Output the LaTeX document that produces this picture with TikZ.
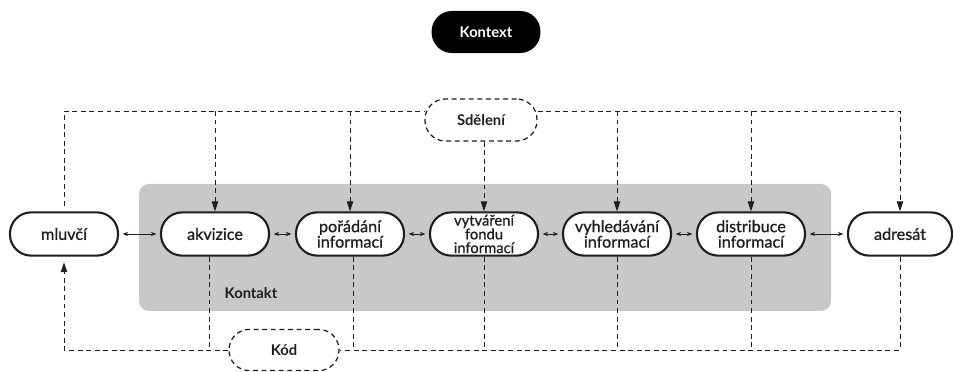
\documentclass[tikz,border=0pt]{standalone}
\usepackage{fontspec}
\setmainfont{Lato}
\newfontfamily\medfont{Lato}[FakeBold=0.8]
\usetikzlibrary{arrows.meta}

\definecolor{kontaktgray}{RGB}{200,200,202}
\definecolor{ink}{RGB}{30,30,30}

\begin{document}
\begin{tikzpicture}[x=0.025cm,y=-0.025cm,
  proc/.style={draw=ink,line width=1.5pt,fill=white,rounded corners=15pt,
    minimum width=2.7cm,minimum height=1.08cm,inner sep=1pt,align=center,
    font=\medfont\fontsize{11.5}{11}\selectfont,text=ink},
  cloud/.style={draw=ink,line width=0.9pt,dash pattern=on 3.5pt off 2.6pt,
    fill=white,rounded corners=14.5pt,minimum height=1.05cm,
    font=\bfseries\fontsize{10.5}{12}\selectfont,text=ink},
  dashline/.style={draw=ink,line width=0.7pt,dash pattern=on 3.5pt off 2.6pt},
  down/.style={-{Triangle[length=7pt,width=4.5pt]}},
  link/.style={{Stealth[length=4pt,width=3pt]}-{Stealth[length=4pt,width=3pt]},
    draw=ink,line width=0.6pt,shorten <=2.5pt,shorten >=2.5pt}]

\useasboundingbox (0,0) rectangle (953,372);

\fill[kontaktgray,rounded corners=7pt] (139,184) rectangle (831,311);
\node[font=\bfseries\fontsize{10.5}{12}\selectfont,text=ink] (kontakt) at (251,293) {Kontakt};

\node[fill=black,text=white,rounded corners=14.5pt,minimum width=2.72cm,
  minimum height=1.05cm,font=\bfseries\fontsize{10.5}{12}\selectfont] (kontext) at (486,32) {Kontext};

\coordinate (top) at (0,111);
\coordinate (bottom) at (0,350);

\node[proc] (mluvci) at (64,234) {mluvčí};
\node[proc] (akvizice) at (215,234) {akvizice};
\node[proc] (poradani) at (350,234) {pořádání\\informací};
\node[proc,font=\medfont\fontsize{10.5}{9.8}\selectfont] (fond) at (484,234) {vytváření\\fondu\\informací};
\node[proc] (vyhledavani) at (617,234) {vyhledávání\\informací};
\node[proc] (distribuce) at (751,234) {distribuce\\informací};
\node[proc,minimum width=2.6cm] (adresat) at (900,234) {adresát};

\node[cloud,minimum width=2.8cm] (sdeleni) at (481,120) {Sdělení};
\node[cloud,minimum width=2.75cm,minimum height=1.03cm] (kod) at (284,350) {Kód};

\foreach \a/\b in {mluvci/akvizice,akvizice/poradani,poradani/fond,
  fond/vyhledavani,vyhledavani/distribuce,distribuce/adresat}
  \draw[link] (\a) -- (\b);

% Sdeleni
\draw[dashline,shorten <=4pt] (mluvci.north) |- (sdeleni.west |- top);
\draw[dashline,down] (sdeleni.east |- top) -| (adresat.north);
\foreach \n in {akvizice,poradani,vyhledavani,distribuce}
  \draw[dashline,down] (\n.north |- top) -- (\n.north);
\draw[dashline,down] (sdeleni.south -| fond.north) -- (fond.north);

% Kod
\draw[dashline] (adresat.south) |- (kod.east);
\draw[dashline,down,shorten >=4pt] (kod.west) -| (mluvci.south);
\draw[dashline] ([xshift=-4.2pt]akvizice.south) -- ([xshift=-4.2pt]akvizice.south |- bottom);
\draw[dashline] ([xshift=2.8pt]poradani.south) -- ([xshift=2.8pt]poradani.south |- bottom);
\foreach \n in {fond,vyhledavani,distribuce}
  \draw[dashline] (\n.south) -- (\n.south |- bottom);
\end{tikzpicture}
\end{document}
